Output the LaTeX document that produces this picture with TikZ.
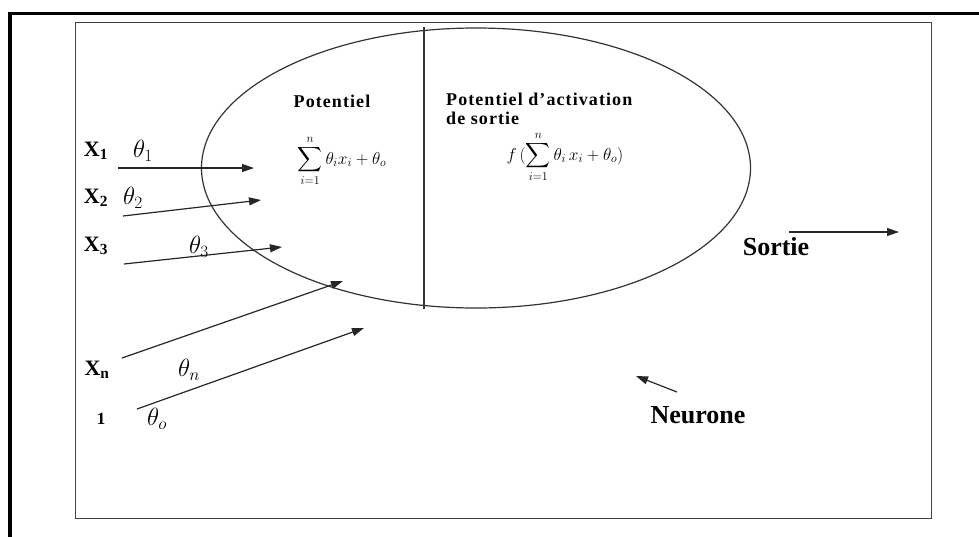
\documentclass[tikz,border=0pt]{standalone}
\usepackage{amsmath}
\usepackage{fontspec}
\setmainfont{Liberation Serif}
\usetikzlibrary{arrows.meta}

\tikzset{
  inp/.style={font=\bfseries\fontsize{22}{22}\selectfont},
  big/.style={font=\bfseries\fontsize{26}{26}\selectfont},
  wgt/.style={font=\fontsize{24}{24}\selectfont},
  ttl/.style={font=\bfseries\fontsize{18}{19}\selectfont\addfontfeatures{LetterSpace=6}, align=left, inner sep=0pt},
  frm/.style={font=\fontsize{18}{18}\selectfont, inner sep=0pt},
  arr/.style={line width=1.2pt, black!85, -{Triangle[length=12pt,width=8pt]}}
}

\begin{document}
\begin{tikzpicture}[x=1pt,y=-1pt]
    \useasboundingbox (0,0) rectangle (979,536);

    % Frames
    \draw[line width=3.5pt] (10,545) -- (10,13.5) -- (990,13.5);
    \draw[line width=1pt, black!75] (75,22) rectangle (931,518);

    % Neuron body
    \draw[line width=1.2pt, black!80] (476,168) ellipse [x radius=274.5, y radius=140];
    \draw[line width=1.2pt, black!80] (424,27) -- (424,309); % split

    % Inputs and weights
    \node[inp] (x1) at (96,151) {X\textsubscript{1}};
    \node[inp] (x2) at (96,198) {X\textsubscript{2}};
    \node[inp] (x3) at (96,246) {X\textsubscript{3}};
    \node[inp] (xn) at (97,370) {X\textsubscript{n}};
    \node[inp, font=\bfseries\fontsize{17}{17}\selectfont] (one) at (101,419) {1};
    \node[wgt] (th1) at (143,151) {$\theta_1$};
    \node[wgt] (th2) at (133,198) {$\theta_2$};
    \node[wgt] (th3) at (199,247) {$\theta_3$};
    \node[wgt] (thn) at (189,370) {$\theta_n$};
    \node[wgt] (th0) at (157,419) {$\theta_o$};

    % Input arrows
    \coordinate (a1s) at (118,168); \coordinate (a1e) at (254,168);
    \coordinate (a2s) at (123,216); \coordinate (a2e) at (261,200);
    \coordinate (a3s) at (124,264); \coordinate (a3e) at (282,247);
    \coordinate (ans) at (122,358); \coordinate (ane) at (343,281);
    \coordinate (a0s) at (137,409); \coordinate (a0e) at (364,328);
    \draw[arr] (a1s) -- (a1e);
    \draw[arr] (a2s) -- (a2e);
    \draw[arr] (a3s) -- (a3e);
    \draw[arr] (ans) -- (ane);
    \draw[arr] (a0s) -- (a0e);

    % Inside the neuron
    \node[ttl] (pot) at (332,101) {Potentiel};
    \node[frm] (sum) at (342,161) {$\displaystyle\sum_{i=1}^{n}\theta_i x_i+\theta_o$};
    \node[ttl, anchor=north west] (potact) at (446,93) {Potentiel d’activation\\de sortie};
    \node[frm] (fsum) at (565,157) {$\displaystyle f\,(\sum_{i=1}^{n}\theta_i\, x_i+\theta_o)$};

    % Output
    \node[big] (sortie) at (776,247) {Sortie};
    \coordinate (os) at (789,232); \coordinate (oe) at (899,232);
    \draw[arr] (os) -- (oe);

    % Neuron label
    \node[big] (neurone) at (698,415) {Neurone};
    \coordinate (ns) at (677,392); \coordinate (ne) at (636,376);
    \draw[arr] (ns) -- (ne);
\end{tikzpicture}
\end{document}
